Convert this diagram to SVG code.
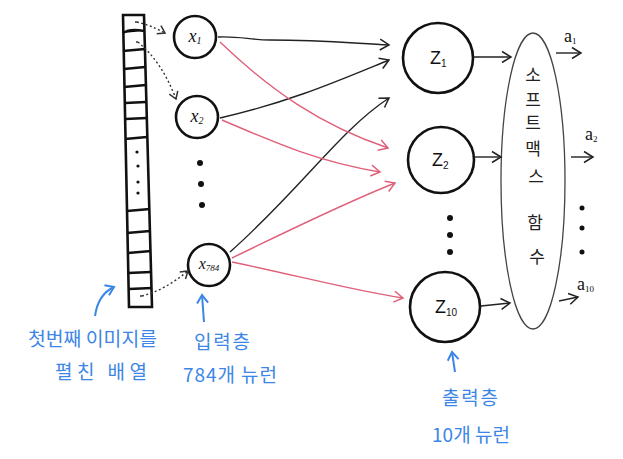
<svg xmlns="http://www.w3.org/2000/svg" width="623" height="459" viewBox="0 0 623 459">
<style>
.node{fill:none;stroke:#111;stroke-width:2.6}
.lbl{font-family:"Liberation Serif",serif;font-style:italic;fill:#111;text-anchor:middle}
.zl{font-family:"Liberation Sans",sans-serif;fill:#111}
.al{font-family:"Liberation Serif",serif;fill:#111}
.blk{fill:none;stroke:#222;stroke-width:1.4}
.red{fill:none;stroke:#e0607a;stroke-width:1.4}
.dot{fill:none;stroke:#333;stroke-width:1.4;stroke-dasharray:2 2.5}
.blue{fill:none;stroke:#3c86e6;stroke-width:2}
.bt{font-family:"Noto Sans CJK KR",sans-serif;fill:#3c86e6;font-size:19px}
.kt{font-family:"Noto Sans CJK KR",sans-serif;fill:#222;font-size:17px;text-anchor:middle}
.cell{stroke:#111;stroke-width:2.4}
</style>
<defs>
<marker id="ab" markerUnits="userSpaceOnUse" markerWidth="14" markerHeight="14" refX="11" refY="7" orient="auto"><path d="M2,1.5 L11,7 L2,12.5" fill="none" stroke="#222" stroke-width="1.5"/></marker>
<marker id="ar" markerUnits="userSpaceOnUse" markerWidth="14" markerHeight="14" refX="11" refY="7" orient="auto"><path d="M2,1.5 L11,7 L2,12.5" fill="none" stroke="#e0607a" stroke-width="1.5"/></marker>
<marker id="ad" markerUnits="userSpaceOnUse" markerWidth="12" markerHeight="12" refX="9" refY="6" orient="auto"><path d="M2,1.5 L9,6 L2,10.5" fill="none" stroke="#333" stroke-width="1.5"/></marker>
<marker id="abl" markerUnits="userSpaceOnUse" markerWidth="14" markerHeight="14" refX="10" refY="7" orient="auto"><path d="M2,1.5 L10,7 L2,12.5" fill="none" stroke="#3c86e6" stroke-width="2"/></marker>
</defs>
<rect width="623" height="459" fill="#fff"/>

<g id="array">
<polygon points="123,15 144,15 152,307 129,307" fill="none" stroke="#111" stroke-width="2.6"/>
<path class="cell" d="M123,33 Q130,28 144,31 M123,51 L145,49 M124,69 L145,67 M124,87 L146,85 M125,103 L146,102 M125,119 L147,118 M125,139 L147,137 M127,211 L150,209 M127,233 L150,231 M128,253 L151,251 M128,273 L151,272 M129,289 L152,288"/>
<circle cx="137" cy="152" r="1.6" fill="#111"/>
<circle cx="138" cy="166" r="1.6" fill="#111"/>
<circle cx="138" cy="182" r="1.6" fill="#111"/>
<circle cx="138" cy="193" r="1.6" fill="#111"/>
<circle cx="136" cy="22" r="1" fill="#333"/>
<circle cx="137" cy="42" r="1" fill="#333"/>
<circle cx="141" cy="296" r="1" fill="#333"/>
</g>

<g id="x1"><circle class="node" cx="195" cy="37" r="21"/><text class="lbl" x="195" y="42" font-size="18">x<tspan font-size="10" dy="2">1</tspan></text></g>
<g id="x2"><circle class="node" cx="197" cy="117" r="21"/><text class="lbl" x="197" y="122" font-size="18">x<tspan font-size="10" dy="2">2</tspan></text></g>
<g id="xdots"><circle cx="200" cy="163" r="3" fill="#111"/><circle cx="201" cy="184" r="3" fill="#111"/><circle cx="202" cy="205" r="3" fill="#111"/></g>
<g id="x784"><circle class="node" cx="209" cy="265" r="21"/><text class="lbl" x="209" y="269" font-size="16">x<tspan font-size="9" dy="2">784</tspan></text></g>

<g id="z1"><circle class="node" cx="438" cy="58" r="35"/><text class="zl" x="430" y="64" font-size="18">Z<tspan font-size="10" dy="3">1</tspan></text></g>
<g id="z2"><circle class="node" cx="441" cy="160" r="33"/><text class="zl" x="432" y="166" font-size="18">Z<tspan font-size="10" dy="3">2</tspan></text></g>
<g id="zdots"><circle cx="450" cy="218" r="3" fill="#111"/><circle cx="450" cy="235" r="3" fill="#111"/><circle cx="450" cy="252" r="3" fill="#111"/></g>
<g id="z10"><circle class="node" cx="445" cy="307" r="35"/><text class="zl" x="435" y="313" font-size="18">Z<tspan font-size="10" dy="3">10</tspan></text></g>

<g id="softmax">
<ellipse cx="533" cy="181" rx="32" ry="148" fill="none" stroke="#444" stroke-width="1.3"/>
<text class="kt" x="533" y="81">소</text>
<text class="kt" x="533" y="106">프</text>
<text class="kt" x="533" y="129">트</text>
<text class="kt" x="533" y="155">맥</text>
<text class="kt" x="536" y="183">스</text>
<text class="kt" x="535" y="229">함</text>
<text class="kt" x="537" y="263">수</text>
</g>

<g id="outputs">
<text class="al" x="564" y="42" font-size="18">a<tspan font-size="9" dy="2">1</tspan></text>
<text class="al" x="585" y="140" font-size="18">a<tspan font-size="9" dy="2">2</tspan></text>
<circle cx="582" cy="208" r="2.5" fill="#111"/><circle cx="582" cy="228" r="2.5" fill="#111"/><circle cx="582" cy="252" r="2.5" fill="#111"/>
<text class="al" x="577" y="290" font-size="18">a<tspan font-size="9" dy="2">10</tspan></text>
</g>

<g id="connectors">
<path class="dot" d="M137,22 Q150,25 165,33" marker-end="url(#ad)"/>
<path class="dot" d="M138,42 Q162,62 176,99" marker-end="url(#ad)"/>
<path class="dot" d="M142,296 Q165,290 188,271" marker-end="url(#ad)"/>
<path class="blk" d="M218,37 C 240,36 250,40 270,40 C 320,40 350,43 389,45" marker-end="url(#ab)"/>
<path class="blk" d="M220,118 C 290,102 340,80 389,60" marker-end="url(#ab)"/>
<path class="blk" d="M230,252 C 300,190 340,130 389,98" marker-end="url(#ab)"/>
<path class="red" d="M220,42 C 270,90 320,125 388,148" marker-end="url(#ar)"/>
<path class="red" d="M222,120 C 280,145 320,162 380,172" marker-end="url(#ar)"/>
<path class="red" d="M232,258 C 290,230 340,205 395,183" marker-end="url(#ar)"/>
<path class="red" d="M232,262 C 300,276 350,290 403,298" marker-end="url(#ar)"/>
<path class="blk" d="M473,57 L511,57" marker-end="url(#ab)"/>
<path class="blk" d="M474,157 L501,157" marker-end="url(#ab)"/>
<path class="blk" d="M481,306 L510,303" marker-end="url(#ab)"/>
<path class="blk" d="M556,53 L581,53" marker-end="url(#ab)"/>
<path class="blk" d="M571,157 L593,157" marker-end="url(#ab)"/>
<path class="blk" d="M559,301 L578,297" marker-end="url(#ab)"/>
<path class="blue" d="M95,316 C 97,302 103,292 114,287" marker-end="url(#abl)"/>
<path class="blue" d="M204,322 L202,295" marker-end="url(#abl)"/>
<path class="blue" d="M455,372 L452,352" marker-end="url(#abl)"/>
</g>

<g id="labels">
<text class="bt" x="28" y="346" textLength="129" lengthAdjust="spacingAndGlyphs">첫번째 이미지를</text>
<text class="bt" x="55" y="379" textLength="92" lengthAdjust="spacing">펼친 배열</text>
<text class="bt" x="194" y="349" textLength="56" lengthAdjust="spacing">입력층</text>
<text class="bt" x="183" y="382" textLength="94" lengthAdjust="spacing">784개 뉴런</text>
<text class="bt" x="442" y="405" textLength="56" lengthAdjust="spacing">출력층</text>
<text class="bt" x="432" y="442" textLength="78" lengthAdjust="spacing">10개 뉴런</text>
</g>
</svg>
